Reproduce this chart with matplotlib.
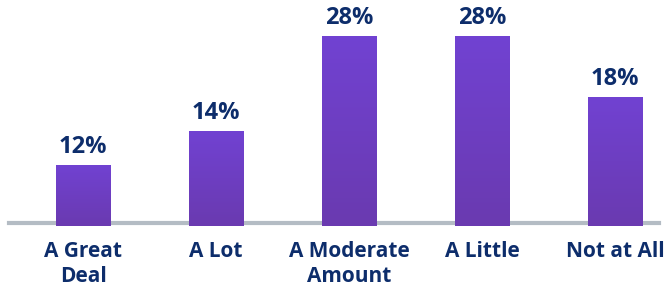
import matplotlib
matplotlib.use("Agg")
import matplotlib.pyplot as plt
import numpy as np

categories = ["A Great\nDeal", "A Lot", "A Moderate\nAmount", "A Little", "Not at All"]
values = [9.0, 14.0, 28.0, 28.0, 19.0]
labels = ["12%", "14%", "28%", "28%", "18%"]

navy = "#0d2d6b"
plt.rcParams["font.family"] = ["Open Sans", "DejaVu Sans"]

fig = plt.figure(figsize=(6.64, 2.91), dpi=100)
ax = fig.add_axes([0, 65 / 291, 1, 226 / 291])
x = np.arange(len(categories))
ax.set_xlim(-83 / 133, (664 - 83) / 133)
ax.set_ylim(0, 226 / 6.8)

ax.axhline(0.44, xmin=9 / 664, xmax=659 / 664, color="#b4bcc4", lw=3, zorder=1)

bars = ax.bar(x, values, width=0.41, color="#6d3ec4", zorder=2)

# vertical gradient inside each bar
grad = np.linspace(0, 1, 256).reshape(-1, 1)
cmap = matplotlib.colors.LinearSegmentedColormap.from_list("g", ["#6a3ab0", "#7142d2"])
for b in bars:
    im = ax.imshow(grad, cmap=cmap, origin="lower", aspect="auto",
                   extent=[b.get_x(), b.get_x() + b.get_width(), 0, b.get_height()], zorder=3)
    im.set_clip_path(b)

for b, lab in zip(bars, labels):
    ax.annotate(lab, (b.get_x() + b.get_width() / 2, b.get_height()),
                xytext=(0, 4), textcoords="offset points", ha="center", va="bottom",
                fontsize=17, fontweight="bold", color=navy)

ax.set_xticks(x)
ax.set_xticklabels(categories, fontsize=15, fontweight="bold", color=navy, linespacing=1.25)
ax.tick_params(axis="x", length=0, pad=11)
ax.set_yticks([])
for s in ax.spines.values():
    s.set_visible(False)
ax.set_facecolor("none")

fig.savefig("out.png", dpi=100)
